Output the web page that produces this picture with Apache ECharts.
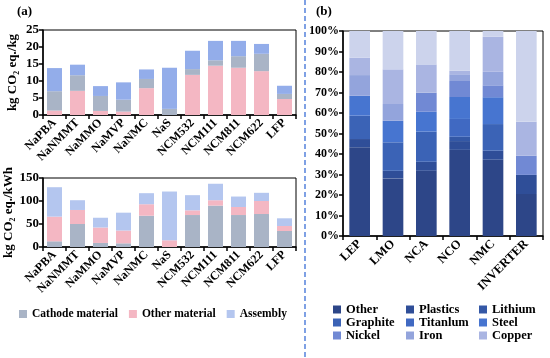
<!DOCTYPE html>
<html>
<head>
<meta charset="utf-8">
<script src="https://cdn.jsdelivr.net/npm/echarts@6/dist/echarts.min.js"></script>
<style>
html,body{margin:0;padding:0;background:#fff;}
#c{width:550px;height:358px;}
</style>
</head>
<body>
<div id="c"></div>
<script>
// ---------- Panel (a) data ----------
const batteries = ['NaPBA','NaNMMT','NaMMO','NaMVP','NaNMC','NaS','NCM532','NCM111','NCM811','NCM622','LFP'];
// kg CO2 eq./kg  (stack order bottom -> top: other material, cathode material, assembly)
const perKgOther    = [1.3, 7.1, 1.2, 1.0, 7.9, 0.0, 11.8, 14.5, 13.9, 12.9, 4.7];
const perKgCathode  = [5.7, 4.6, 4.4, 3.5, 2.7, 1.8, 1.7, 1.6, 3.4, 5.1, 1.5];
const perKgAssembly = [6.8, 3.1, 2.9, 5.1, 2.8, 12.1, 5.4, 5.7, 4.5, 2.9, 2.4];
// kg CO2 eq./kWh  (stack order bottom -> top: cathode material, other material, assembly)
const perKwhCathode  = [12.4, 50.0, 8.8, 8.0, 68.0, 0.0, 69.5, 90.0, 69.5, 71.7, 34.8];
const perKwhOther    = [53.6, 30.5, 33.6, 27.8, 25.0, 14.6, 10.2, 11.7, 17.5, 28.3, 10.8];
const perKwhAssembly = [64.0, 21.2, 21.2, 38.8, 24.0, 106.0, 33.0, 35.8, 22.7, 17.8, 16.8];
const kgTicks = [0, 5, 10, 15, 20, 25];
const kwhTicks = [0, 50, 100, 150];

// ---------- Panel (b) data (% share) ----------
const vehicles = ['LEP','LMO','NCA','NCO','NMC','INVERTER'];
const matOther    = [43.3, 28.1, 31.8, 42.0, 37.2, 20.5];
const matPlastics = [4.0, 3.7, 4.4, 4.3, 4.4, 9.3];
const matLithium  = [0, 0, 0, 2.1, 0, 0];
const matGraphite = [11.4, 13.9, 14.7, 0, 13.0, 0];
const matTitanlum = [0, 0, 0, 8.7, 0, 0];
const matSteel    = [9.7, 10.5, 9.7, 10.7, 13.1, 0];
const matNickel   = [0, 0, 9.3, 7.8, 5.8, 9.4];
const matIron     = [10.1, 8.2, 0, 3.3, 6.6, 0];
const matCopper   = [8.5, 16.9, 13.8, 1.7, 17.1, 16.6];
const matRest     = [13.0, 18.7, 16.3, 19.4, 2.8, 44.2];
const pctTicks = [0,10,20,30,40,50,60,70,80,90,100];

const FONT = '"Liberation Serif","Times New Roman",serif';
const cGray = '#a9b4c6', cPink = '#f4b7c3', cBlueTop = '#93adea', cBlueBot = '#b4c6ef';

const chart = echarts.init(document.getElementById('c'), null, {renderer:'canvas'});

function catAxis(gi, data, fs){
  return {
    type:'category', gridIndex:gi, data:data,
    axisLine:{lineStyle:{color:'#000', width:1.5}},
    axisTick:{show:true, length:4, lineStyle:{color:'#000', width:1.5}},
    axisLabel:{rotate:45, interval:0, margin:6, color:'#000', fontFamily:FONT, fontWeight:'bold', fontSize:fs}
  };
}
function valAxis(gi, min, max, interval, name, fmt, fs){
  return {
    type:'value', gridIndex:gi, min:min, max:max, interval:interval,
    name:name, nameLocation:'middle', nameGap: name ? 24 : 0,
    nameTextStyle:{color:'#000', fontFamily:FONT, fontWeight:'bold', fontSize:13},
    axisLine:{show:true, lineStyle:{color:'#000', width:1.5}},
    axisTick:{show:true, length:4, lineStyle:{color:'#000', width:1.5}},
    splitLine:{show:false},
    axisLabel:{color:'#000', fontFamily:FONT, fontWeight:'bold', fontSize:fs, margin:4, formatter:fmt}
  };
}
function bar(name, xi, yi, stack, data, color, bw){
  return {name:name, type:'bar', xAxisIndex:xi, yAxisIndex:yi, stack:stack, data:data,
    barWidth:bw, itemStyle:{color:color}, emphasis:{disabled:true}};
}

const matColors = ['#2d4688','#2f4e98','#3458a6','#3b63b6','#4069c2','#4775d0','#7189d4','#93a4dc','#aab5e2','#ccd3ec'];
const matNames = ['Other','Plastics','Lithium','Graphite','Titanlum','Steel','Nickel','Iron','Copper','Balance'];
const matData = [matOther, matPlastics, matLithium, matGraphite, matTitanlum, matSteel, matNickel, matIron, matCopper, matRest];

const series = [
  bar('Other material', 0, 0, 'a', perKgOther, cPink, '65%'),
  bar('Cathode material', 0, 0, 'a', perKgCathode, cGray, '65%'),
  bar('Assembly', 0, 0, 'a', perKgAssembly, cBlueTop, '65%'),
  bar('Cathode material', 1, 1, 'b', perKwhCathode, cGray, '65%'),
  bar('Other material', 1, 1, 'b', perKwhOther, cPink, '65%'),
  bar('Assembly', 1, 1, 'b', perKwhAssembly, cBlueBot, '65%')
];
matNames.forEach((n,i)=>series.push(bar(n, 2, 2, 'c', matData[i], matColors[i], '62%')));

const legText = {color:'#000', fontFamily:FONT, fontWeight:'bold', fontSize:11.5};
const legText2 = {color:'#000', fontFamily:FONT, fontWeight:'bold', fontSize:12.5, lineHeight:13};
function legCol(left, names){
  return {orient:'vertical', left:left, top:303, padding:0, itemWidth:8, itemHeight:8, itemGap:0,
    selectedMode:false, textStyle:legText2,
    data:names.map(n=>({name:n, icon:'rect', itemStyle:{color:matColors[matNames.indexOf(n)]}}))};
}

chart.setOption({
  animation:false,
  backgroundColor:'#fff',
  grid:[
    {left:43, top:30, width:253, height:85, show:true, borderColor:'#000', borderWidth:1, backgroundColor:'transparent'},
    {left:43, top:178, width:253, height:69, show:true, borderColor:'#000', borderWidth:1, backgroundColor:'transparent'},
    {left:343, top:31, width:200, height:205, show:true, borderColor:'#000', borderWidth:1, backgroundColor:'transparent'}
  ],
  xAxis:[catAxis(0, batteries, 12), catAxis(1, batteries, 12), catAxis(2, vehicles, 12.5)],
  yAxis:[
    valAxis(0, kgTicks[0], kgTicks[kgTicks.length-1], 5, 'kg CO₂ eq./kg', '{value}', 13),
    valAxis(1, kwhTicks[0], kwhTicks[kwhTicks.length-1], 50, 'kg CO₂ eq./kWh', '{value}', 13),
    valAxis(2, pctTicks[0], pctTicks[pctTicks.length-1], 10, '', '{value}%', 12)
  ],
  legend:[
    {left:19, top:308, padding:0, itemWidth:8, itemHeight:8, itemGap:11, selectedMode:false, textStyle:legText,
      data:[
        {name:'Cathode material', icon:'rect', itemStyle:{color:cGray}},
        {name:'Other material', icon:'rect', itemStyle:{color:cPink}},
        {name:'Assembly', icon:'rect', itemStyle:{color:cBlueBot}}
      ]},
    legCol(333, ['Other','Graphite','Nickel']),
    legCol(406, ['Plastics','Titanlum','Iron']),
    legCol(479, ['Lithium','Steel','Copper'])
  ],
  graphic:[
    {type:'text', left:17, top:5, style:{text:'(a)', fill:'#000', font:'bold 13px '+FONT}},
    {type:'text', left:316, top:5, style:{text:'(b)', fill:'#000', font:'bold 13px '+FONT}},
    {type:'line', shape:{x1:305, y1:0, x2:305, y2:358}, style:{stroke:'#3b6fd6', lineWidth:1.3, lineDash:[5,3]}}
  ],
  series:series
});
</script>
</body>
</html>
